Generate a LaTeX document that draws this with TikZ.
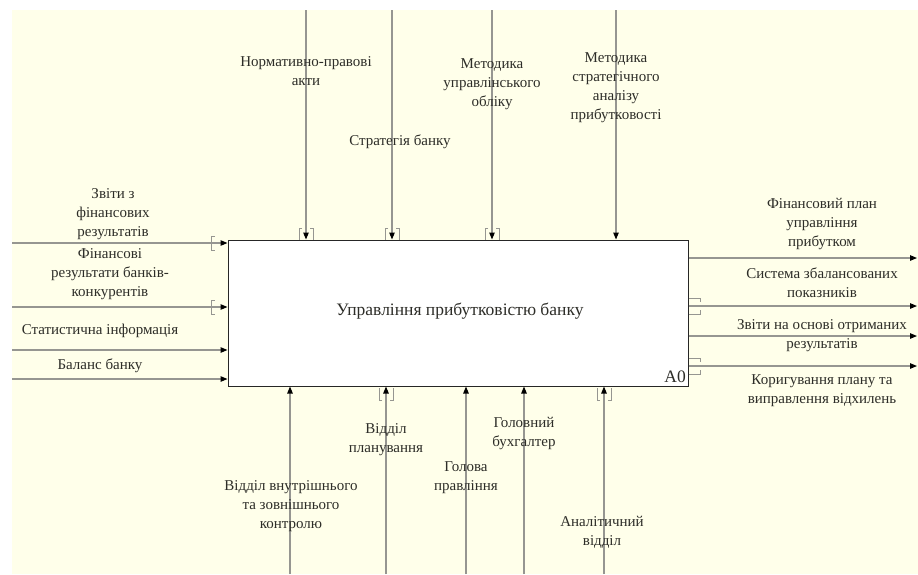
\documentclass[tikz,border=0pt]{standalone}
\usepackage{fontspec}
\setmainfont{Liberation Serif}
\usetikzlibrary{arrows.meta}
\definecolor{cream}{RGB}{255,255,234}
\definecolor{linegray}{RGB}{150,150,145}
\definecolor{txt}{RGB}{45,45,40}
\tikzset{
  arr/.style={draw=linegray, line width=1.1pt, -{Triangle[length=7pt,width=5.5pt,fill=black,color=black]}},
  lbl/.style={align=center, text=txt, font=\fontsize{15}{19}\selectfont, inner sep=0pt},
  big/.style={font=\fontsize{17.5}{21}\selectfont},
  tun/.style={draw=linegray, line width=0.8pt},
}
\begin{document}
\begin{tikzpicture}[x=1pt,y=-1pt]
\useasboundingbox (0,0) rectangle (918,574);
\fill[cream] (12,10) rectangle (918,574);
% main box
\node[draw=black!85, line width=1pt, fill=white, minimum width=460pt, minimum height=146pt, inner sep=0pt] (A) at (458,313) {};
\node[lbl, big] (Atxt) at (460,311) {Управління прибутковістю банку};
\node[lbl, big, anchor=south east] (A0) at (686,383) {A0};
% free ends
\coordinate (i1) at (12,243); \coordinate (i2) at (12,307);
\coordinate (i3) at (12,350); \coordinate (i4) at (12,379);
\coordinate (c1) at (306,10); \coordinate (c2) at (392,10);
\coordinate (c3) at (492,10); \coordinate (c4) at (616,10);
\coordinate (o1) at (917,258); \coordinate (o2) at (917,306);
\coordinate (o3) at (917,336); \coordinate (o4) at (917,366);
\coordinate (m1) at (290,574); \coordinate (m2) at (386,574);
\coordinate (m3) at (466,574); \coordinate (m4) at (524,574);
\coordinate (m5) at (604,574);
% inputs
\foreach \c in {i1,i2,i3,i4} \draw[arr] (\c) -- (A.west |- \c);
% controls
\foreach \c in {c1,c2,c3,c4} \draw[arr] (\c) -- (A.north -| \c);
% outputs
\foreach \c in {o1,o2,o3,o4} \draw[arr] (A.east |- \c) -- (\c);
% mechanisms
\foreach \c in {m1,m2,m3,m4,m5} \draw[arr] (\c) -- (A.south -| \c);
% tunnel brackets
\foreach \c in {i1,i2} {
  \draw[tun] ([shift={(4,-7)}]\c -| 211,0) -- ++(-4,0) -- ++(0,14) -- ++(4,0);
}
\foreach \c in {c1,c2,c3} {
  \draw[tun] ([shift={(-7,0)}]\c |- 0,228) ++(3,0) -- ++(-3,0) -- ++(0,12);
  \draw[tun] ([shift={(7,0)}]\c |- 0,228) ++(-3,0) -- ++(3,0) -- ++(0,12);
}
\foreach \c in {o2,o4} {
  \draw[tun] (A.east |- \c) ++(0,-8) -- ++(12,0) -- ++(0,4);
  \draw[tun] (A.east |- \c) ++(0,8) -- ++(12,0) -- ++(0,-4);
}
\foreach \c in {m2,m5} {
  \draw[tun] ([shift={(-7,0)}]\c |- 0,400) ++(3,0) -- ++(-3,0) -- ++(0,-12);
  \draw[tun] ([shift={(7,0)}]\c |- 0,400) ++(-3,0) -- ++(3,0) -- ++(0,-12);
}
% labels
\node[lbl] (L1) at (113,214) {Звіти з\\фінансових\\результатів};
\node[lbl] (L2) at (110,274) {Фінансові\\результати банків-\\конкурентів};
\node[lbl] (L3) at (100,331) {Статистична інформація};
\node[lbl] (L4) at (100,366) {Баланс банку};
\node[lbl] (T1) at (306,71) {Нормативно-правові\\акти};
\node[lbl] (T2) at (400,142) {Стратегія банку};
\node[lbl] (T3) at (492,84) {Методика\\управлінського\\обліку};
\node[lbl] (T4) at (616,88) {Методика\\стратегічного\\аналізу\\прибутковості};
\node[lbl] (R1) at (822,224) {Фінансовий план\\управління\\прибутком};
\node[lbl] (R2) at (822,283) {Система збалансованих\\показників};
\node[lbl] (R3) at (822,336) {Звіти на основі отриманих\\результатів};
\node[lbl] (R4) at (822,391) {Коригування плану та\\виправлення відхилень};
\node[lbl] (B1) at (291,506) {Відділ внутрішнього\\та зовнішнього\\контролю};
\node[lbl] (B2) at (386,440) {Відділ\\планування};
\node[lbl] (B3) at (466,478) {Голова\\правління};
\node[lbl] (B4) at (524,433) {Головний\\бухгалтер};
\node[lbl] (B5) at (602,532) {Аналітичний\\відділ};
\end{tikzpicture}
\end{document}
